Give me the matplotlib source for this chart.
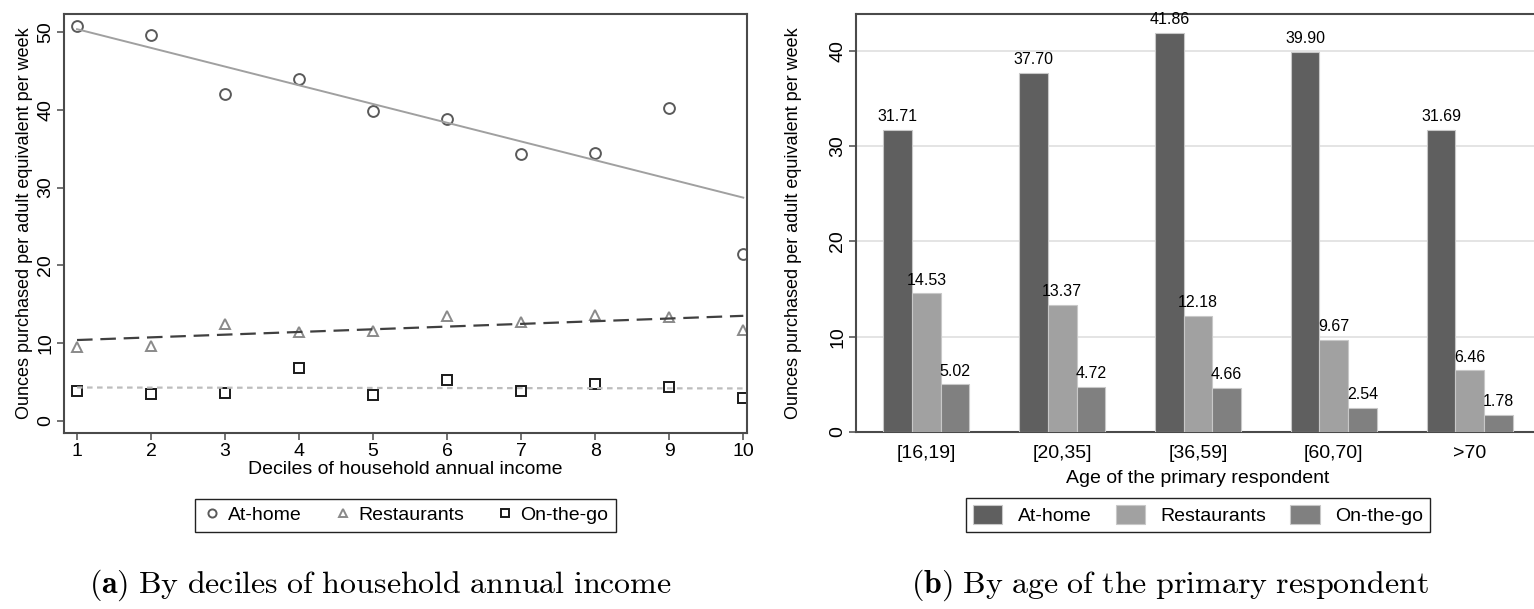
import matplotlib.pyplot as plt
import numpy as np

plt.rcParams['font.family'] = ['Liberation Sans', 'DejaVu Sans']
plt.rcParams['mathtext.fontset'] = 'cm'

# panel (a): ounces per adult equivalent per week, by income decile
deciles = np.arange(1, 11)
at_home = [50.8, 49.6, 42.0, 44.0, 39.8, 38.8, 34.3, 34.4, 40.2, 21.5]
restaurants = [9.5, 9.65, 12.4, 11.35, 11.55, 13.5, 12.75, 13.55, 13.35, 11.65]
on_the_go = [3.86, 3.4, 3.5, 6.74, 3.35, 5.28, 3.78, 4.76, 4.34, 2.96]

# panel (b): by age of the primary respondent
age_groups = ['[16,19]', '[20,35]', '[36,59]', '[60,70]', '>70']
age_home = [31.71, 37.70, 41.86, 39.90, 31.69]
age_rest = [14.53, 13.37, 12.18, 9.67, 6.46]
age_go = [5.02, 4.72, 4.66, 2.54, 1.78]

W, H = 1534, 609
fig = plt.figure(figsize=(W / 100, H / 100), dpi=100)

def box(l, t, r, b):
    return [l / W, (H - b) / H, (r - l) / W, (b - t) / H]

spine_col = '#4a4a4a'
fs = 14
yfs = 13

# ---------- (a) scatter with linear fits ----------
ax1 = fig.add_axes(box(64, 13.5, 747, 433))
series = [
    (at_home, 'o', '#5a5a5a', 'At-home', dict(color='#a0a0a0', ls='-', lw=1.4)),
    (restaurants, '^', '#8a8a8a', 'Restaurants', dict(color='#404040', ls=(0, (7, 3.5)), lw=1.6)),
    (on_the_go, 's', '#1a1a1a', 'On-the-go', dict(color='#bdbdbd', ls=(0, (2.5, 2)), lw=1.6)),
]
for vals, mk, mc, lab, lstyle in series:
    ax1.plot(deciles, vals, ls='none', marker=mk, ms=7.8, mfc='none', mec=mc, mew=1.4, label=lab)
    b, a = np.polyfit(deciles, vals, 1)
    ax1.plot(deciles, a + b * deciles, **lstyle)

ax1.set_xlim(0.824, 10.05)
ax1.set_ylim(-1.6, 52.4)
ax1.set_xticks(deciles)
ax1.set_yticks([0, 10, 20, 30, 40, 50])
ax1.set_xlabel('Deciles of household annual income', fontsize=fs, labelpad=1)
ax1.set_ylabel('Ounces purchased per adult equivalent per week', fontsize=yfs, labelpad=3)
for lbl in ax1.get_yticklabels():
    lbl.set_rotation(90)
    lbl.set_va('center')
ax1.tick_params(labelsize=fs, length=5, width=1.1, color=spine_col, pad=2)
for s in ax1.spines.values():
    s.set_color(spine_col)
    s.set_linewidth(1.5)
ax1.legend(loc='center', bbox_to_anchor=(0.5, -0.196), ncol=3, fontsize=fs,
           frameon=True, fancybox=False, edgecolor='#222222', framealpha=1,
           handletextpad=0.3, columnspacing=1.6, borderpad=0.4, markerscale=0.75,
           handlelength=1.0)

# ---------- (b) grouped bars ----------
ax2 = fig.add_axes(box(856, 13.5, 1540, 432))
x = np.arange(len(age_groups))
bw = 0.211
bar_cols = ['#5f5f5f', '#a1a1a1', '#808080']
for i, (vals, lab) in enumerate(zip([age_home, age_rest, age_go], ['At-home', 'Restaurants', 'On-the-go'])):
    bars = ax2.bar(x + (i - 1) * bw, vals, bw, color=bar_cols[i], edgecolor='#c8c8c8',
                   linewidth=0.8, label=lab, zorder=3)
    ax2.bar_label(bars, labels=[f'{v:.2f}' for v in vals], padding=4, fontsize=11.5)

ax2.set_xlim(-0.518, 4.518)
ax2.set_ylim(0, 43.9)
ax2.set_xticks(x)
ax2.set_xticklabels(age_groups)
ax2.set_yticks([0, 10, 20, 30, 40])
ax2.grid(axis='y', color='#e2e2e2', lw=1.3, zorder=0)
ax2.set_xlabel('Age of the primary respondent', fontsize=fs, labelpad=6)
ax2.set_ylabel('Ounces purchased per adult equivalent per week', fontsize=yfs, labelpad=20)
for lbl in ax2.get_yticklabels():
    lbl.set_rotation(90)
    lbl.set_va('center')
ax2.tick_params(labelsize=fs, length=5, width=1.1, color=spine_col, pad=2)
ax2.tick_params(axis='x', length=0, pad=9)
for s in ax2.spines.values():
    s.set_color(spine_col)
    s.set_linewidth(1.5)
ax2.legend(loc='center', bbox_to_anchor=(0.5, -0.198), ncol=3, fontsize=fs,
           frameon=True, fancybox=False, edgecolor='#222222', framealpha=1,
           handletextpad=0.8, columnspacing=1.25, borderpad=0.35,
           handlelength=1.5, handleheight=1.1)

# captions
fig.text(380 / W, (H - 585) / H, r'$\mathbf{(a)}$ $\mathrm{By\ deciles\ of\ household\ annual\ income}$',
         ha='center', va='center', fontsize=23)
fig.text(1170 / W, (H - 585) / H, r'$\mathbf{(b)}$ $\mathrm{By\ age\ of\ the\ primary\ respondent}$',
         ha='center', va='center', fontsize=23)

fig.savefig('out.png', dpi=100)
